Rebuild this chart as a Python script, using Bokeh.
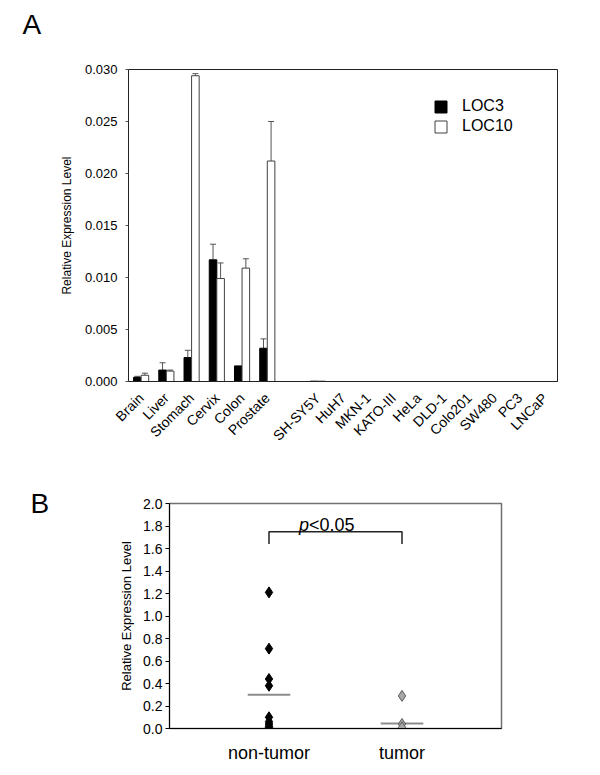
from bokeh.plotting import figure
from bokeh.models import (FactorRange, FixedTicker, PrintfTickFormatter, Whisker, TeeHead,
                          ColumnDataSource, Legend, LegendItem, Range1d, Title)
from bokeh.transform import dodge
from bokeh.embed import file_html
from bokeh.resources import INLINE
from bokeh.core.properties import value
from math import pi

# ---------------- data: panel A ----------------
tissues = ["Brain", "Liver", "Stomach", "Cervix", "Colon", "Prostate"]
cell_lines = ["SH-SY5Y", "HuH7", "MKN-1", "KATO-III", "HeLa", "DLD-1",
              "Colo201", "SW480", "PC3", "LNCaP"]
gap = [" "]
loc3 = [0.0004, 0.0011, 0.0023, 0.0117, 0.0015, 0.0032,
        0.00003, 0, 0, 0, 0, 0, 0, 0, 0, 0]
loc3_err = [0.0001, 0.0007, 0.0007, 0.0015, 0.0, 0.0009,
            0, 0, 0, 0, 0, 0, 0, 0, 0, 0]
loc10 = [0.0006, 0.0010, 0.0294, 0.0099, 0.0109, 0.0212,
         0.00003, 0, 0, 0, 0, 0, 0, 0, 0, 0]
loc10_err = [0.0002, 0.0001, 0.0002, 0.0015, 0.0009, 0.0038,
             0, 0, 0, 0, 0, 0, 0, 0, 0, 0]
ticks_a = [0.000, 0.005, 0.010, 0.015, 0.020, 0.025, 0.030]

# ---------------- data: panel B ----------------
groups = ["non-tumor", "tumor"]
non_tumor = [1.21, 0.71, 0.44, 0.38, 0.10, 0.06, 0.04, 0.02, 0.01]
tumor = [0.29, 0.04, 0.01]
group_means = [0.30, 0.045]
ticks_b = [0.0, 0.2, 0.4, 0.6, 0.8, 1.0, 1.2, 1.4, 1.6, 1.8, 2.0]
bracket_low, bracket_high = 1.64, 1.75

FONT = "Liberation Sans"
INK = "black"

# ================= Panel A =================
categories = tissues + gap + cell_lines
pa = figure(width=600, height=470, x_range=FactorRange(*categories),
            y_range=Range1d(0, 0.030), output_backend="svg", toolbar_location=None,
            min_border_left=128, min_border_right=43, min_border_top=69,
            min_border_bottom=89)
pa.xgrid.visible = False
pa.ygrid.visible = False
pa.outline_line_color = "#222222"
pa.outline_line_width = 1

names = tissues + cell_lines
src = ColumnDataSource(dict(cat=names, loc3=loc3, loc10=loc10))
r3 = pa.vbar(x=dodge("cat", -0.15, range=pa.x_range), top="loc3", width=0.3,
             source=src, fill_color="black", line_color="black", line_width=1)
r10 = pa.vbar(x=dodge("cat", 0.15, range=pa.x_range), top="loc10", width=0.3,
              source=src, fill_color="white", line_color="#404040", line_width=1)

def err_source(vals, errs):
    c, lo, up = [], [], []
    for n, v, e in zip(names, vals, errs):
        if e > 0:
            c.append(n); lo.append(v); up.append(v + e)
    return ColumnDataSource(dict(cat=c, lower=lo, upper=up))

for vals, errs, off in ((loc3, loc3_err, -0.15), (loc10, loc10_err, 0.15)):
    es = err_source(vals, errs)
    w = Whisker(base=dodge("cat", off, range=pa.x_range), lower="lower", upper="upper",
                source=es, dimension="height", line_color="#555555", line_width=1,
                upper_head=TeeHead(size=6, line_color="#555555", line_width=1),
                lower_head=None)
    pa.add_layout(w)

ya = pa.yaxis[0]
ya.ticker = FixedTicker(ticks=ticks_a)
ya.formatter = PrintfTickFormatter(format="%.3f")
ya.axis_label = "Relative Expression Level"
ya.axis_label_text_font = FONT
ya.axis_label_text_font_style = "normal"
ya.axis_label_text_font_size = "12px"
ya.axis_label_text_color = INK
ya.axis_label_standoff = 8
ya.major_label_text_font = FONT
ya.major_label_text_font_size = "13px"
ya.major_label_text_color = INK
ya.major_label_standoff = 8
ya.major_tick_out = 3
ya.major_tick_in = 0
ya.minor_tick_line_color = None
ya.axis_line_color = "#222222"
ya.major_tick_line_color = "#555555"

xa = pa.xaxis[0]
xa.major_label_orientation = pi / 4
xa.major_label_text_font = FONT
xa.major_label_text_font_size = "14px"
xa.major_label_text_color = INK
xa.major_label_standoff = 8
xa.major_tick_line_color = None
xa.axis_line_color = "#222222"

legend = Legend(items=[LegendItem(label="LOC3", renderers=[r3]),
                       LegendItem(label="LOC10", renderers=[r10])],
                location=(305, 245), glyph_width=15, glyph_height=15,
                label_height=20, label_standoff=14, spacing=0, padding=0, margin=0,
                label_text_font=FONT, label_text_font_size="16px",
                label_text_color=INK,
                border_line_color=None, background_fill_alpha=0)
pa.add_layout(legend)

# spacer nearest the frame, then the panel letter above it
pa.add_layout(Title(text=" ", text_font_size="1px", standoff=26), "above")
pa.add_layout(Title(text="A", text_font=FONT, text_font_size="28px", text_color=INK,
                    text_font_style="normal", align="left", offset=-106, standoff=2),
              "above")

# ================= Panel B =================
pb = figure(width=600, height=305,
            x_range=FactorRange(*groups, range_padding=0.248),
            y_range=Range1d(0, 2.0), output_backend="svg", toolbar_location=None,
            min_border_left=169, min_border_right=99, min_border_top=33,
            min_border_bottom=47)
pb.xgrid.visible = False
pb.ygrid.visible = False
pb.outline_line_color = "#707070"
pb.outline_line_width = 1.5

pb.rect(x=groups, y=group_means, width=0.32, height=2, height_units="screen",
        fill_color="#8c8c8c", line_color=None)

pb.scatter(x=[groups[0]] * len(non_tumor), y=non_tumor, marker="diamond", size=11,
           fill_color="black", line_color="black", line_width=1)
pb.scatter(x=[groups[1]] * len(tumor), y=tumor, marker="diamond", size=11,
           fill_color="#a8a8a8", line_color="#5a5a5a", line_width=1)

pb.line(x=[groups[0], groups[0], groups[1], groups[1]],
        y=[bracket_low, bracket_high, bracket_high, bracket_low],
        line_color="#222222", line_width=1.5)
pb.text(x=[groups[0]], y=[1.81], text=["p"], x_offset=40, text_align="right",
        text_baseline="alphabetic", text_font=value(FONT), text_font_style="italic",
        text_font_size="18px", text_color=INK)
pb.text(x=[groups[0]], y=[1.81], text=["<0.05"], x_offset=40, text_align="left",
        text_baseline="alphabetic", text_font=value(FONT), text_font_size="18px",
        text_color=INK)

yb = pb.yaxis[0]
yb.ticker = FixedTicker(ticks=ticks_b)
yb.formatter = PrintfTickFormatter(format="%.1f")
yb.axis_label = "Relative Expression Level"
yb.axis_label_text_font = FONT
yb.axis_label_text_font_style = "normal"
yb.axis_label_text_font_size = "13px"
yb.axis_label_text_color = INK
yb.axis_label_standoff = 6
yb.major_label_text_font = FONT
yb.major_label_text_font_size = "14px"
yb.major_label_text_color = INK
yb.major_label_standoff = 3
yb.major_tick_out = 4
yb.major_tick_in = 0
yb.minor_tick_line_color = None
yb.axis_line_color = "black"

xb = pb.xaxis[0]
xb.major_label_text_font = FONT
xb.major_label_text_font_size = "18px"
xb.major_label_text_color = INK
xb.major_label_standoff = 8
xb.major_tick_line_color = None
xb.axis_line_color = "black"

pb.add_layout(Title(text="B", text_font=FONT, text_font_size="28px", text_color=INK,
                    text_font_style="normal", align="left", offset=-139, standoff=-30),
              "above")

open("out.html", "w").write(file_html([pa, pb], INLINE))
